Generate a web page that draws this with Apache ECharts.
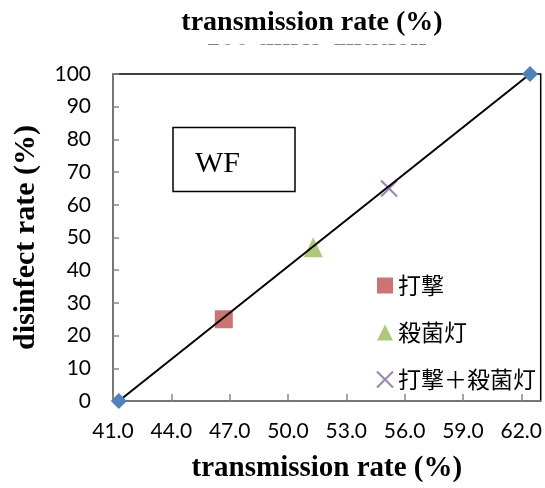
<!DOCTYPE html>
<html><head><meta charset="utf-8">
<script src="https://cdn.jsdelivr.net/npm/echarts@6/dist/echarts.min.js"></script>
<style>html,body{margin:0;padding:0;background:#fff}#c{width:545px;height:488px}</style>
</head><body><div id="c"></div>
<script>
// ---- data ----
const seriesNames = ['打撃', '殺菌灯', '打撃＋殺菌灯'];
const dagekiPts = [[46.7, 25]];
const sakkinPts = [[51.3, 47]];
const bothPts = [[55.2, 65]];
const linePts = [[41.3, 0], [62.45, 100]];
const xMin = 41, xMax = 63, xStep = 3;
const yMin = 0, yMax = 100, yStep = 10;
const titleText = 'transmission rate (%)';
const hiddenText = '100 times dilution';
const xName = 'transmission rate (%)';
const yName = 'disinfect rate (%)';
const boxLabel = 'WF';

const serif = '"Liberation Serif", "Times New Roman", serif';
const chart = echarts.init(document.getElementById('c'));
chart.setOption({
  animation: false,
  backgroundColor: '#fff',
  grid: { left: 113, right: 3, top: 74, bottom: 85, show: true, borderColor: '#000', borderWidth: 1.5, backgroundColor: 'transparent' },
  graphic: [
    { type: 'text', z: 1, style: { x: 316, y: 52, align: 'center', verticalAlign: 'bottom', text: hiddenText, font: 'bold 29px ' + serif, fill: '#000' } },
    { type: 'rect', z: 2, shape: { x: 150, y: 10, width: 320, height: 34.5 }, style: { fill: '#fff' } },
    { type: 'text', z: 3, style: { x: 312, y: 23, align: 'center', verticalAlign: 'middle', text: titleText, font: 'bold 28px ' + serif, fill: '#000' } },
    { type: 'rect', z: 5, shape: { x: 173, y: 127.5, width: 122, height: 64 }, style: { fill: '#fff', stroke: '#000', lineWidth: 1.5 } },
    { type: 'text', z: 6, left: 195, top: 149, style: { text: boxLabel, font: '30px ' + serif, fill: '#000' } }
  ],
  legend: {
    data: seriesNames, orient: 'vertical', left: 371, top: 269, itemGap: 24,
    itemWidth: 16, itemHeight: 16,
    textStyle: { fontSize: 23, fontFamily: '"Noto Sans CJK JP"', color: '#000' }
  },
  xAxis: {
    type: 'value', min: xMin, max: xMax, interval: xStep,
    name: xName, nameLocation: 'middle', nameGap: 53,
    nameTextStyle: { fontSize: 29, fontWeight: 'bold', fontFamily: serif, color: '#000' },
    axisLine: { show: true, lineStyle: { color: '#888', width: 1.5 } },
    axisTick: { show: true, inside: true, length: 7, lineStyle: { color: '#888', width: 1.5 } },
    axisLabel: { showMaxLabel: false, margin: 20, fontSize: 21, fontFamily: 'Lato', color: '#000', formatter: v => v.toFixed(1) },
    splitLine: { show: false }
  },
  yAxis: {
    type: 'value', min: yMin, max: yMax, interval: yStep,
    name: yName, nameLocation: 'middle', nameGap: 72, nameRotate: 90,
    nameTextStyle: { fontSize: 30, fontWeight: 'bold', fontFamily: serif, color: '#000' },
    axisLine: { show: true, lineStyle: { color: '#888', width: 1.5 } },
    axisTick: { show: true, inside: true, length: 6, lineStyle: { color: '#888', width: 1.5 } },
    axisLabel: { margin: 22, fontSize: 21, fontFamily: 'Lato', color: '#000' },
    splitLine: { show: false }
  },
  series: [
    { name: seriesNames[0], type: 'scatter', data: dagekiPts, symbol: 'rect', symbolSize: 18, itemStyle: { color: '#C0504D' }, z: 3 },
    { name: seriesNames[1], type: 'scatter', data: sakkinPts, symbol: 'triangle', symbolSize: [19, 20], itemStyle: { color: '#9BBB59' }, z: 3 },
    { name: seriesNames[2], type: 'scatter', data: bothPts, symbol: 'path://M0,0L10,10M10,0L0,10', symbolSize: 16, itemStyle: { color: '#8064A2', borderColor: '#8064A2', borderWidth: 2 }, z: 3 },
    { name: 'fit', type: 'line', data: linePts, symbol: 'diamond', symbolSize: 16, showSymbol: true,
      itemStyle: { color: '#4F81BD' }, lineStyle: { color: '#000', width: 2 }, z: 4 }
  ]
});
</script></body></html>
